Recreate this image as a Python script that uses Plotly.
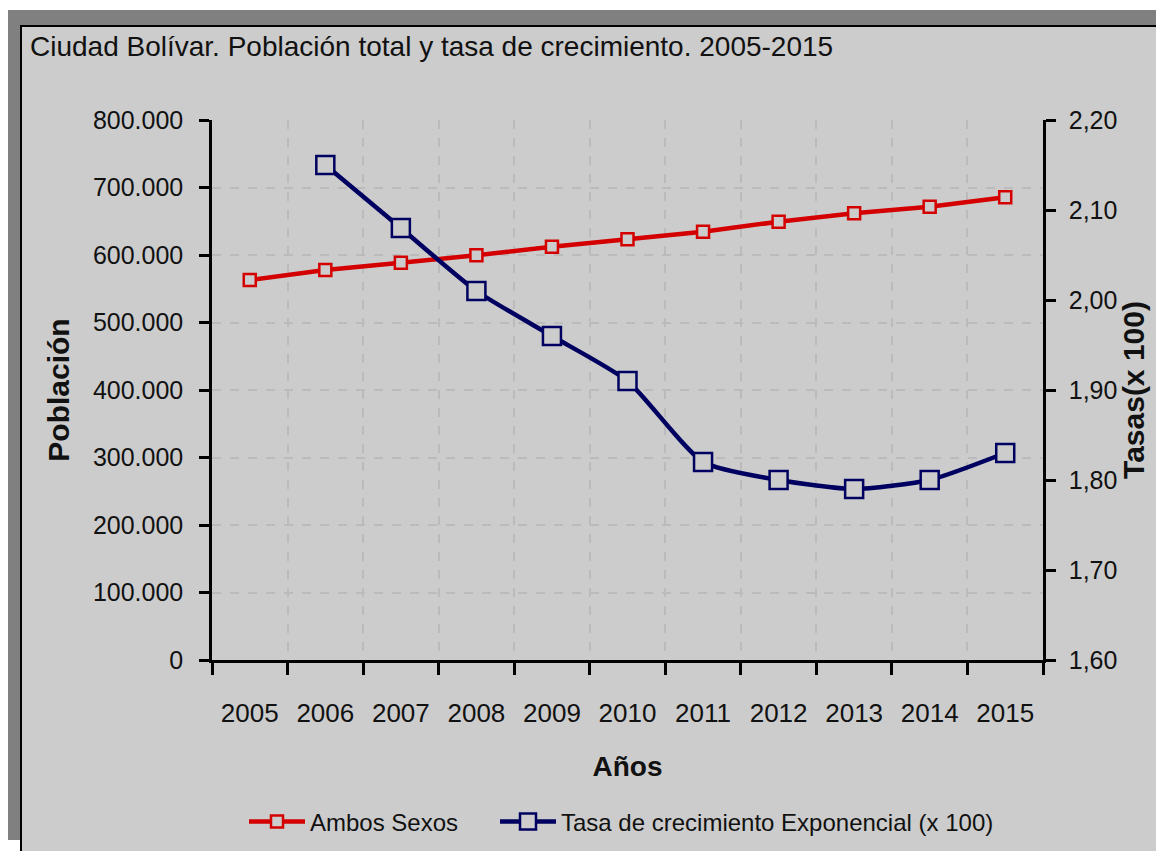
import plotly.graph_objects as go

# ---- data ----
years = ["2005", "2006", "2007", "2008", "2009", "2010", "2011", "2012", "2013", "2014", "2015"]
poblacion = [563000, 577800, 588600, 599500, 612300, 623200, 634500, 649400, 661700, 671600, 685500]
tasa_years = ["2006", "2007", "2008", "2009", "2010", "2011", "2012", "2013", "2014", "2015"]
tasa = [2.15, 2.08, 2.01, 1.96, 1.91, 1.82, 1.80, 1.79, 1.80, 1.83]

title_text = "Ciudad Bolívar. Población total y tasa de crecimiento. 2005-2015"
name_pob = "Ambos Sexos"
name_tasa = "Tasa de crecimiento Exponencial (x 100)"

W, H = 1164, 851
OFF = 8  # page body margin: figure origin sits at (8, 8) in the page
L, T = 212 - OFF, 120 - OFF
R, B = W - (1043 - OFF), H - (660 - OFF)
PW, PH = W - L - R, H - T - B

SANS = "Liberation Sans, Arial"
BG = "#cccccc"
RED = "#d40000"
NAVY = "#000060"
TXT = "#111111"


def px_x(px):
    """page x pixel -> paper fraction"""
    return (px - OFF - L) / PW


def px_y(py):
    """page y pixel -> paper fraction"""
    return (H - B - (py - OFF)) / PH


fig = go.Figure()

fig.add_trace(go.Scatter(
    x=years, y=poblacion, name=name_pob, mode="lines+markers",
    line=dict(color=RED, width=4.5),
    marker=dict(symbol="square", size=12, color=BG, line=dict(color=RED, width=2.5)),
    yaxis="y", legend="legend",
))
fig.add_trace(go.Scatter(
    x=tasa_years, y=tasa, name=name_tasa, mode="lines+markers",
    line=dict(color=NAVY, width=4.5, shape="spline", smoothing=0.6),
    marker=dict(symbol="square", size=18, color=BG, line=dict(color=NAVY, width=2.5)),
    yaxis="y2", legend="legend2",
))

shapes = [
    dict(type="rect", xref="paper", yref="paper", layer="below",
         x0=px_x(5), x1=px_x(1200), y0=px_y(10), y1=px_y(840),
         fillcolor="#808080", line=dict(width=0)),
    dict(type="rect", xref="paper", yref="paper", layer="below",
         x0=px_x(20), x1=px_x(1200), y0=px_y(25), y1=px_y(900),
         fillcolor="#000000", line=dict(width=0)),
    dict(type="rect", xref="paper", yref="paper", layer="below",
         x0=px_x(22), x1=px_x(1200), y0=px_y(27), y1=px_y(900),
         fillcolor=BG, line=dict(width=0)),
]

legend_common = dict(
    orientation="h", yanchor="middle", xanchor="left",
    bgcolor="rgba(0,0,0,0)", font=dict(family=SANS, size=24, color=TXT),
    itemwidth=56,
)

fig.update_layout(
    width=W, height=H,
    margin=dict(l=L, r=R, t=T, b=B, pad=0, autoexpand=False),
    paper_bgcolor="#ffffff",
    plot_bgcolor=BG,
    separators=",.",
    shapes=shapes,
    showlegend=True,
    title=dict(text=title_text, x=(30 - OFF) / W, xanchor="left", xref="container",
               y=1 - (46 - OFF) / H, yanchor="middle", yref="container", automargin=False,
               font=dict(family=SANS, size=28, color=TXT)),
    xaxis=dict(
        type="category", range=[-0.5, 10.5], tickson="boundaries", automargin=False,
        showgrid=True, gridcolor="#bbbbbb", griddash="dash", gridwidth=2,
        showline=True, linecolor="#000000", linewidth=3,
        ticks="outside", ticklen=12, tickwidth=3, tickcolor="#000000",
        tickangle=0,
        tickfont=dict(family=SANS, size=26, color=TXT),
        ticklabelstandoff=28,
        title=dict(text="<b>Años</b>", font=dict(family=SANS, size=28, color=TXT), standoff=30),
        zeroline=False,
    ),
    yaxis=dict(
        range=[0, 800000], dtick=100000, tickformat=",d", automargin=False,
        showgrid=True, gridcolor="#bbbbbb", griddash="dash", gridwidth=2,
        showline=True, linecolor="#000000", linewidth=2.5,
        ticks="outside", ticklen=10, tickwidth=3, tickcolor="#000000",
        tickfont=dict(family=SANS, size=25, color=TXT),
        ticklabelstandoff=11,
        title=dict(text="<b>Población</b>", font=dict(family=SANS, size=30, color=TXT), standoff=15),
        zeroline=False,
    ),
    yaxis2=dict(
        range=[1.6, 2.2], dtick=0.1, tickformat=".2f", overlaying="y", side="right",
        automargin=False, showgrid=False,
        showline=True, linecolor="#000000", linewidth=2.5,
        ticks="outside", ticklen=10, tickwidth=3, tickcolor="#000000",
        tickfont=dict(family=SANS, size=25, color=TXT),
        ticklabelstandoff=8,
        title=dict(text="<b>Tasas(x 100)</b>", font=dict(family=SANS, size=30, color=TXT), standoff=2),
        zeroline=False,
    ),
    legend=dict(x=px_x(244), y=px_y(822), **legend_common),
    legend2=dict(x=px_x(495), y=px_y(822), **legend_common),
)

fig.write_html("out.html")
